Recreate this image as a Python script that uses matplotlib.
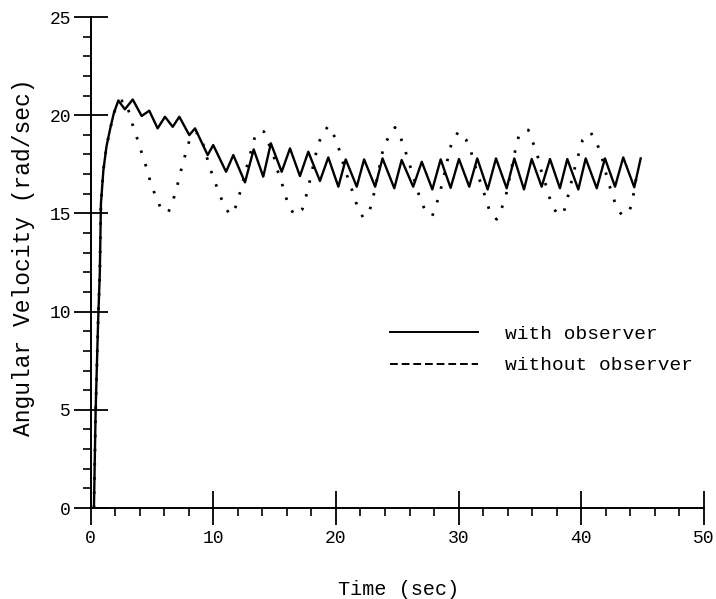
import matplotlib
matplotlib.use("Agg")
import matplotlib.pyplot as plt
from matplotlib.lines import Line2D
from matplotlib.ticker import MultipleLocator

# with observer (peaks / troughs)
with_obs_t = [0.28, 0.42, 0.62, 0.76, 0.85, 1.05, 1.3, 1.6, 1.9, 2.27, 2.8, 3.44, 4.17, 4.79,
              5.47, 6.07, 6.7, 7.24, 8.05, 8.52, 9.55, 10.0, 11.05, 11.64, 12.59, 13.3,
              14.08, 14.7, 15.58, 16.26, 17.07, 17.75, 18.7, 19.38, 20.2, 20.8, 21.7, 22.3,
              23.2, 23.8, 24.76, 25.36, 26.3, 27.0, 27.86, 28.54, 29.35, 30.03, 30.87, 31.52,
              32.37, 33.05, 33.92, 34.54, 35.33, 35.96, 36.77, 37.45, 38.26, 38.86, 39.76,
              40.36, 41.26, 41.93, 42.75, 43.42, 44.32, 44.84]
with_obs_v = [0.0, 5.0, 9.5, 12.0, 15.5, 17.2, 18.4, 19.3, 20.1, 20.75, 20.3, 20.8, 19.96, 20.23,
              19.33, 19.92, 19.41, 19.92, 18.99, 19.33, 17.97, 18.48, 17.12, 17.97, 16.58, 18.26,
              16.87, 18.57, 17.12, 18.31, 16.9, 18.14, 16.65, 17.85, 16.36, 17.75, 16.36, 17.75,
              16.36, 17.8, 16.28, 17.72, 16.36, 17.63, 16.22, 17.75, 16.3, 17.77, 16.36, 17.8,
              16.22, 17.8, 16.28, 17.8, 16.22, 17.77, 16.36, 17.77, 16.28, 17.77, 16.22,
              17.8, 16.28, 17.8, 16.36, 17.85, 16.33, 17.8]

# without observer
without_obs_t = [0.28, 0.42, 0.62, 0.76, 0.85, 1.05, 1.3, 1.6, 1.9, 2.3, 2.8, 3.16, 3.44, 3.76,
                 4.38, 4.71, 4.93, 5.34, 5.75, 6.34, 6.7, 7.02, 7.48, 7.78, 8.11, 8.6, 9.1,
                 9.74, 10.15, 10.5, 10.88, 11.37, 11.83, 12.13, 12.67, 13.19, 13.46, 13.8,
                 14.14, 14.95, 15.17, 15.53, 15.8, 16.12, 16.61, 17.26, 17.56, 17.8, 18.49,
                 18.84, 19.38, 19.93, 20.25, 20.8, 21.15, 21.47, 21.78, 22.23, 22.78, 23.05,
                 23.86, 24.27, 24.82, 25.3, 25.63, 25.98, 26.85, 27.26, 27.86, 28.2, 28.48,
                 28.95, 29.2, 29.44, 29.98, 30.6, 30.99, 31.6, 31.93, 32.23, 32.56, 33.1,
                 33.51, 33.84, 34.68, 34.95, 35.68, 36.04, 36.41, 36.63, 37.26, 37.53, 38.0,
                 38.53, 38.81, 39.54, 39.84, 40.11, 40.76, 41.3, 41.66, 41.87, 42.47, 42.8,
                 43.29, 43.91, 44.19, 44.5, 44.7]
without_obs_v = [0.0, 5.0, 9.5, 12.0, 15.5, 17.2, 18.4, 19.3, 20.1, 20.7, 20.75, 20.13, 19.5, 18.9,
                 17.68, 17.04, 16.45, 15.85, 15.22, 15.05, 15.6, 16.28, 17.46, 18.1, 18.82, 19.15, 18.7,
                 17.3, 16.6, 16.0, 15.43, 14.92, 15.34, 15.94, 17.2, 18.43, 19.04, 19.2,
                 19.16, 17.89, 17.3, 16.7, 16.07, 15.46, 14.92, 15.21, 15.85, 16.45, 18.36,
                 18.99, 19.45, 18.87, 18.28, 17.12, 16.5, 15.9, 15.29, 14.78, 15.21, 15.85,
                 18.31, 18.87, 19.38, 18.82, 18.23, 17.55, 15.77, 15.17, 14.87, 15.48, 16.05,
                 17.3, 18.02, 18.6, 19.16, 18.77, 18.19, 16.9, 16.33, 15.72, 15.06, 14.7,
                 15.26, 15.85, 18.4, 19.04, 19.25, 18.65, 18.02, 17.38, 16.16, 15.55, 15.0,
                 14.97, 15.6, 17.5, 18.14, 18.74, 19.13, 18.53, 17.92, 17.35, 16.05, 15.46,
                 14.92, 15.06, 15.72, 16.9, 17.3]

labels = ["with observer", "without observer"]
mono = "Liberation Mono"

fig = plt.figure(figsize=(7.16, 5.99), dpi=100)
ax = fig.add_axes([0.1264, 0.1519, 0.8568, 0.8197])

ax.plot(with_obs_t, with_obs_v, color="black", lw=1.7, solid_joinstyle="round")
ax.plot(without_obs_t, without_obs_v, color="black", lw=2.0,
        linestyle=(0, (0.9, 4.2)), dash_capstyle="butt")

ax.set_xlim(0, 50)
ax.set_ylim(0, 25)
for s in ["top", "right"]:
    ax.spines[s].set_visible(False)
for s in ["left", "bottom"]:
    ax.spines[s].set_linewidth(1.4)

ax.xaxis.set_major_locator(MultipleLocator(10))
ax.xaxis.set_minor_locator(MultipleLocator(2))
ax.yaxis.set_major_locator(MultipleLocator(5))
ax.yaxis.set_minor_locator(MultipleLocator(1))
ax.tick_params(which="major", direction="inout", length=24, width=1.3, labelsize=13)
ax.tick_params(axis="x", which="major", pad=4)
ax.tick_params(axis="y", which="major", pad=2)
ax.tick_params(which="minor", direction="out", length=6, width=1.2)
for lab in ax.get_xticklabels() + ax.get_yticklabels():
    lab.set_family(mono)

ax.set_xlabel("Time (sec)", fontsize=14.5, family=mono)
ax.xaxis.set_label_coords(0.503, -0.147)
ax.set_ylabel("Angular Velocity (rad/sec)", fontsize=16.5, family=mono, va="center")
ax.yaxis.set_label_coords(-0.11, 0.511)

handles = [Line2D([], [], color="black", lw=1.4),
           Line2D([], [], color="black", lw=1.4, linestyle=(0, (4, 2)))]
ax.legend(handles, labels, loc="upper left", bbox_to_anchor=(0.5447, 0.457),
          bbox_transform=fig.transFigure, frameon=False, borderpad=0,
          borderaxespad=0, handlelength=4.5, handletextpad=1.4, labelspacing=0.72,
          prop={"family": mono, "size": 14})

fig.savefig("out.png", dpi=100)
